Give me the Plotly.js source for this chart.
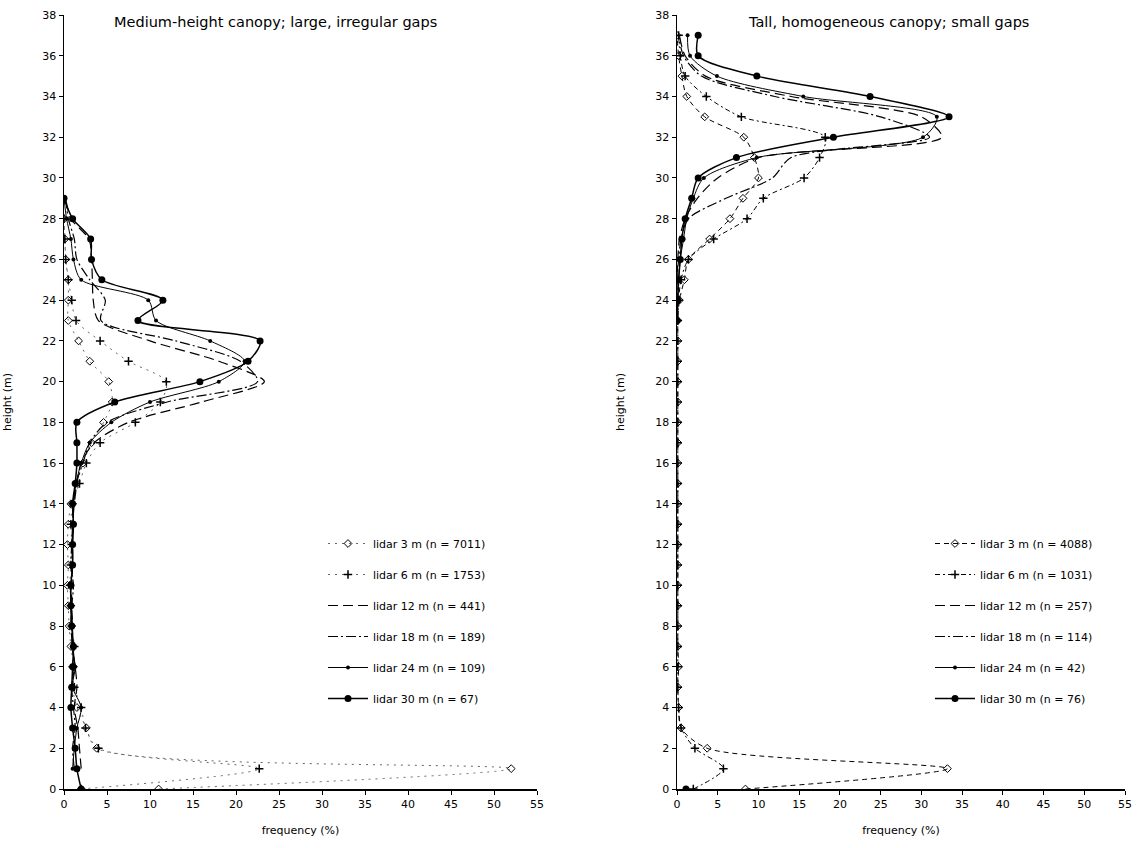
<!DOCTYPE html>
<html>
<head>
<meta charset="utf-8">
<script src="https://cdn.plot.ly/plotly-3.0.1.min.js"></script>
<style>html,body{margin:0;padding:0;background:#fff;}#chart{width:1137px;height:848px;}</style>
</head>
<body>
<div id="chart"></div>
<script>
// Heights (m)
const heightsL = [0,1,2,3,4,5,6,7,8,9,10,11,12,13,14,15,16,17,18,19,20,21,22,23,24,25,26,27,28,29];
const heightsR = [0,1,2,3,4,5,6,7,8,9,10,11,12,13,14,15,16,17,18,19,20,21,22,23,24,25,26,27,28,29,30,31,32,33,34,35,36,37];

// Left panel: medium-height canopy, frequency (%)
const left3  = [11.0,52.0,3.8,2.6,1.5,1.0,1.1,0.8,0.6,0.5,0.4,0.5,0.4,0.5,0.8,1.5,2.2,3.2,4.6,5.6,5.2,3.0,1.7,0.5,0.5,0.5,0.2,0.1,0.0,null];
const left6  = [2.0,22.7,4.0,2.5,2.0,1.2,1.0,1.2,0.9,0.8,0.7,0.8,0.9,0.8,1.0,1.8,2.6,4.2,8.3,11.2,11.9,7.5,4.2,1.4,0.9,0.5,0.2,0.1,0.0,null];
const left12 = [null,2.0,1.8,1.6,1.2,1.5,1.3,1.0,1.0,0.9,0.9,1.0,1.0,1.0,1.2,1.5,2.0,3.5,7.5,16.0,23.3,18.0,10.0,4.0,3.4,3.3,3.2,2.9,0.8,0.2];
const left18 = [null,1.2,1.0,1.3,1.1,0.9,1.2,1.0,0.8,0.9,1.1,0.8,0.9,1.0,1.1,1.4,2.2,3.0,5.0,12.0,22.5,20.5,13.0,4.3,4.8,3.0,1.5,1.2,0.5,0.2];
const left24 = [null,1.0,1.2,1.5,2.0,1.0,1.3,0.9,1.0,0.8,0.8,1.0,0.9,1.1,1.1,1.4,2.0,3.0,5.5,10.0,18.0,21.0,17.0,10.7,9.8,2.0,1.1,0.8,0.3,0.0];
const left30 = [2.0,1.5,1.3,1.0,0.8,0.9,1.0,1.1,0.9,0.8,0.8,1.0,1.0,1.1,1.0,1.3,1.5,1.5,1.5,5.9,15.8,21.4,22.8,8.6,11.5,4.4,3.2,3.1,1.0,0.0];

// Right panel: tall homogeneous canopy, frequency (%)
const right3  = [8.4,33.2,3.7,0.5,0.2,0.1,0.2,0.1,0.1,0.1,0.1,0.1,0.1,0.1,0.1,0.1,0.1,0.1,0.1,0.1,0.1,0.1,0.1,0.1,0.3,0.9,1.4,4.0,6.5,8.1,10.0,9.5,8.2,3.4,1.2,0.6,0.2,0.0];
const right6  = [2.0,5.7,2.2,0.5,0.2,0.1,0.1,0.1,0.1,0.1,0.1,0.1,0.1,0.1,0.1,0.1,0.1,0.1,0.1,0.1,0.1,0.1,0.1,0.1,0.2,0.5,1.4,4.5,8.6,10.6,15.6,17.5,18.2,7.9,3.6,1.0,0.4,0.2];
const right12 = [null,null,null,null,null,null,null,null,null,null,null,null,null,null,null,null,null,null,null,null,null,null,null,0,0,0,0.1,0.3,1.0,2.5,5.0,10.0,32.5,30.0,14.0,3.5,1.0,0.3];
const right18 = [null,null,null,null,null,null,null,null,null,null,null,null,null,null,null,null,null,null,null,null,null,null,null,0,0,0,0.2,0.5,1.4,6.0,11.7,14.0,31.0,25.0,12.0,3.0,0.8,0.2];
const right24 = [null,null,null,null,null,null,null,null,null,null,null,null,null,null,null,null,null,null,null,null,null,null,null,0,0.1,0.2,0.4,0.8,1.2,2.0,3.3,9.8,30.2,31.9,15.5,4.9,1.6,1.3];
const right30 = [1.1,null,null,null,null,null,null,null,null,null,null,null,null,null,null,null,null,null,null,null,null,null,null,0,0.1,0.2,0.4,0.6,1.0,1.8,2.6,7.3,19.2,33.4,23.7,9.8,2.6,2.6];

const leftNames  = ['lidar 3 m (n = 7011)','lidar 6 m (n = 1753)','lidar 12 m (n = 441)','lidar 18 m (n = 189)','lidar 24 m (n = 109)','lidar 30 m (n = 67)'];
const rightNames = ['lidar 3 m (n = 4088)','lidar 6 m (n = 1031)','lidar 12 m (n = 257)','lidar 18 m (n = 114)','lidar 24 m (n = 42)','lidar 30 m (n = 76)'];

const leftSeries  = [left3,left6,left12,left18,left24,left30];
const rightSeries = [right3,right6,right12,right18,right24,right30];

const styleL = [
  {line:{dash:'2px,5px',width:1,color:'#666'},marker:{symbol:'diamond-open',size:6,line:{width:1}},mode:'lines+markers'},
  {line:{dash:'2px,5px',width:1,color:'#666'},marker:{symbol:'cross-thin-open',size:6,line:{width:1.5}},mode:'lines+markers'},
  {line:{dash:'10px,5px',width:1.2},mode:'lines'},
  {line:{dash:'10px,3px,2px,3px',width:1.2},mode:'lines'},
  {line:{width:1},marker:{symbol:'circle',size:4},mode:'lines+markers'},
  {line:{width:1.5},marker:{symbol:'circle',size:7},mode:'lines+markers'}
];
const styleR = [
  {line:{dash:'5px,4px',width:1},marker:{symbol:'diamond-open',size:6,line:{width:1}},mode:'lines+markers'},
  {line:{dash:'5px,3px,2px,3px',width:1},marker:{symbol:'cross-thin-open',size:6,line:{width:1.5}},mode:'lines+markers'},
  {line:{dash:'10px,5px',width:1.2},mode:'lines'},
  {line:{dash:'10px,3px,2px,3px',width:1.2},mode:'lines'},
  {line:{width:1},marker:{symbol:'circle',size:4},mode:'lines+markers'},
  {line:{width:1.5},marker:{symbol:'circle',size:7},mode:'lines+markers'}
];

const traces = [];
function addSeries(vals, heights, s, name, xa, ya, lg, grp){
  traces.push({
    x: vals, y: heights, type:'scatter', mode:s.mode, name:name,
    xaxis:xa, yaxis:ya, legend:lg, legendgroup:grp,
    line:Object.assign({color:'#000',shape:'spline',smoothing:0.8},s.line),
    marker:Object.assign({color:'#000'},s.marker||{}),
    connectgaps:false, hoverinfo:'x+y'
  });
}
leftSeries.forEach((vals,i)=>addSeries(vals, heightsL, styleL[i], leftNames[i], 'x','y','legend','L'+i));
rightSeries.forEach((vals,i)=>addSeries(vals, heightsR, styleR[i], rightNames[i], 'x2','y2','legend2','R'+i));

const W = 1137, H = 848;
const fam = 'DejaVu Sans, Liberation Sans, Arial, sans-serif';
const font = {family:fam, size:11, color:'#000'};
const xax = (dom) => ({
  domain: dom, range:[0,55], tick0:0, dtick:5, showline:true, linecolor:'#000', linewidth:1.5,
  ticks:'outside', ticklen:4, tickcolor:'#000', showgrid:false, zeroline:false,
  tickfont:font, title:{text:'frequency (%)', font:font, standoff:16}
});
const yax = (dom, anchor) => ({
  domain: dom, range:[0,38], tick0:0, dtick:2, showline:true, linecolor:'#000', linewidth:1.5,
  ticks:'outside', ticklen:4, tickcolor:'#000', showgrid:false, zeroline:false, anchor:anchor,
  tickfont:font, title:{text:'height (m)', font:font, standoff:28}
});
const yDom = [1-789/H, 1-15/H];

const layout = {
  width:W, height:H, margin:{l:0,r:0,t:0,b:0},
  paper_bgcolor:'#fff', plot_bgcolor:'#fff', font:font,
  xaxis: Object.assign(xax([64/W, 537/W]), {anchor:'y'}),
  yaxis: yax(yDom,'x'),
  xaxis2: Object.assign(xax([677/W, 1125/W]), {anchor:'y2'}),
  yaxis2: yax(yDom,'x2'),
  showlegend:true,
  legend:{x:323/W, y:1-529/H, xanchor:'left', yanchor:'top', bgcolor:'rgba(0,0,0,0)', font:font, tracegroupgap:12, itemwidth:40},
  legend2:{x:930/W, y:1-529/H, xanchor:'left', yanchor:'top', bgcolor:'rgba(0,0,0,0)', font:font, tracegroupgap:12, itemwidth:40},
  annotations:[
    {text:'Medium-height canopy; large, irregular gaps', xref:'paper', yref:'paper', x:275/W, y:1-22/H, xanchor:'center', yanchor:'middle', showarrow:false, font:{family:fam,size:14.5,color:'#000'}},
    {text:'Tall, homogeneous canopy; small gaps', xref:'paper', yref:'paper', x:888/W, y:1-22/H, xanchor:'center', yanchor:'middle', showarrow:false, font:{family:fam,size:14.5,color:'#000'}}
  ]
};

Plotly.newPlot('chart', traces, layout, {displayModeBar:false, staticPlot:true});
</script>
</body>
</html>
